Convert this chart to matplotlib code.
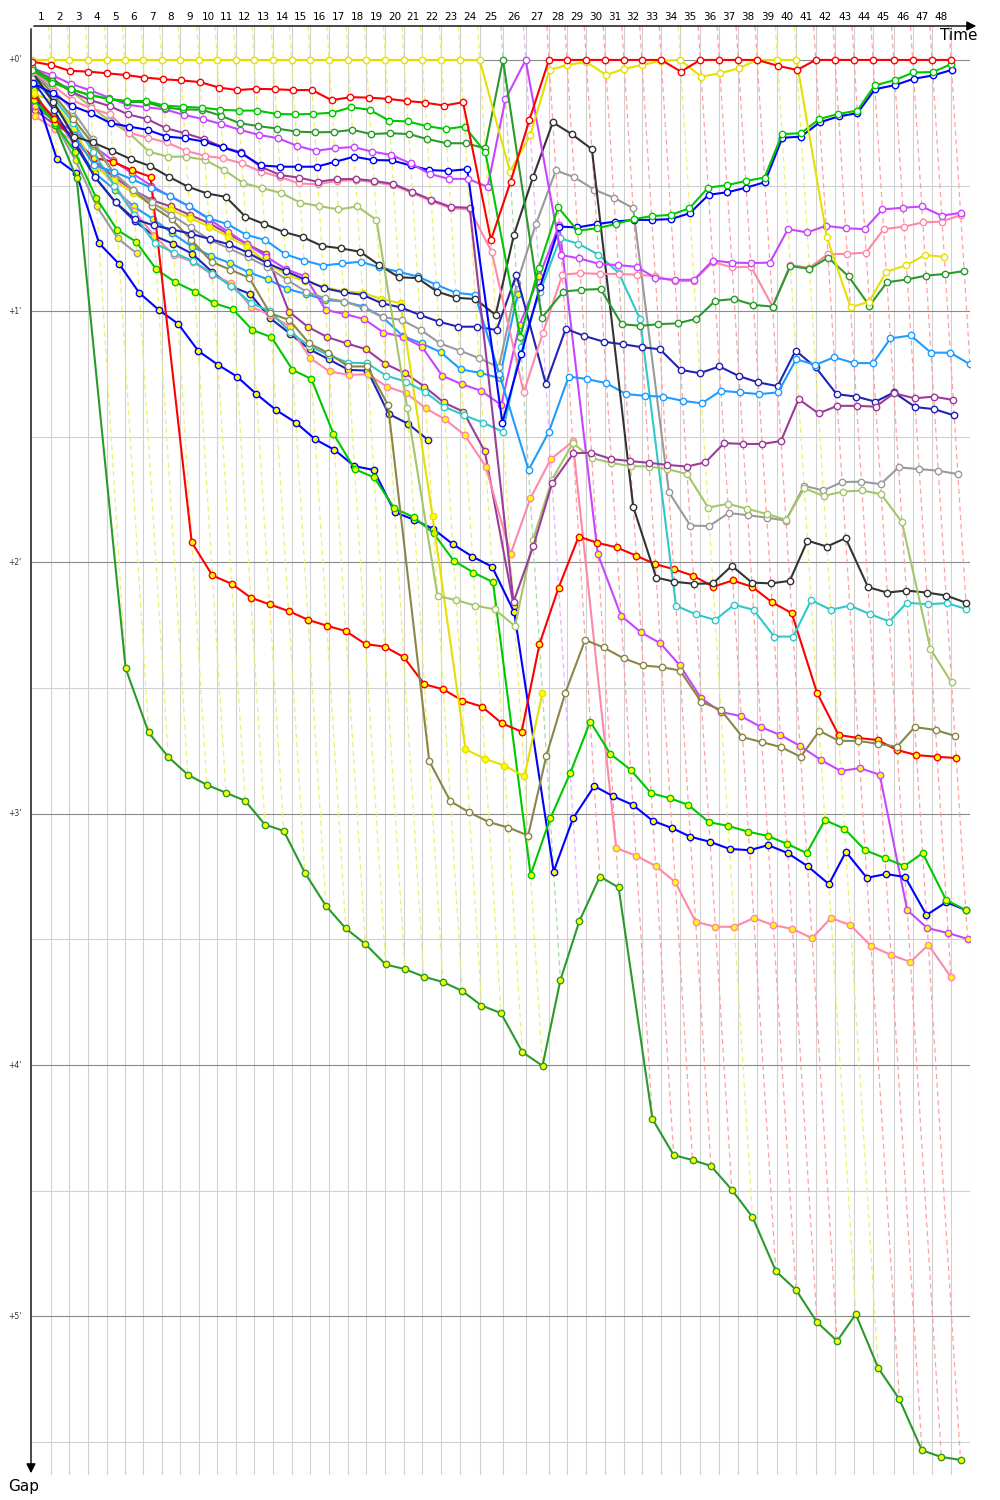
import numpy as np
import matplotlib
matplotlib.use("Agg")
import matplotlib.pyplot as plt

# leader lap times (s), laps 1..48
LAP_TIMES = [72.6, 71.1, 70.3, 72.6, 68.8, 71.1, 70.3, 71.1, 71.5, 69.9,
             70.3, 71.1, 72.6, 70.3, 71.1, 72.6, 72.6, 70.3, 72.6, 71.1,
             70.3, 72.6, 72.6, 73.8, 89.0, 86.8, 89.0, 68.8, 74.1, 72.6,
             71.1, 68.8, 74.1, 72.6, 76.4, 72.6, 72.6, 72.6, 77.6, 72.6,
             73.8, 74.1, 72.6, 72.6, 78.7, 72.6, 74.1, 72.6]
# leader of each lap 1..48 (colour of the lap line)
LEADERS = ["Y"] * 24 + ["G", "V"] + ["R"] * 7 + ["Y"] + ["R"] * 4 + ["Y"] * 2 + ["R"] * 8
LAP_LABELS = [str(i) for i in range(1, 49)]
GAP_LABELS = ["+0'", "+1'", "+2'", "+3'", "+4'", "+5'"]

N = None
# gaps to leader (s), laps 0..48
YELLOW1 = [0, 0, 0, 0, 0, 0, 0, 0, 0, 0,
           0, 0, 0, 0, 0, 0, 0, 0, 0, 0,
           0, 0, 0, 0, 0, 26.7, 17.9, 2.4, 1.2, 0.5,
           3.6, 2.1, 1.2, 0.2, 0, 4.0, 3.2, 2.0, 0, 0,
           0, 42.3, 59.1, 57.7, 50.6, 49.0, 46.6, 47.0, N]
RED1 = [0.4, 1.2, 2.6, 2.8, 3.2, 3.6, 4.2, 4.6, 4.9, 5.3,
        6.6, 7.2, 6.9, 7.0, 7.2, 7.2, 9.6, 8.9, 9.0, 9.3,
        9.8, 10.2, 10.9, 10.1, 43.0, 29.1, 14.3, 0, 0, 0,
        0, 0, 0, 0, 2.8, 0, 0, 0, 0, 1.4,
        2.4, 0, 0, 0, 0, 0, 0, 0, 0]
GREEN1 = [2.4, 5.5, 7.0, 8.4, 9.3, 9.8, 9.8, 10.9, 11.2, 11.4,
          11.9, 12.1, 12.1, 12.9, 13.0, 12.9, 12.6, 11.3, 11.9, 14.5,
          14.7, 15.8, 16.5, 15.9, 22.1, 66.1, 49.7, 35.2, 40.8, 40.2,
          39.2, 38.0, 37.3, 37.0, 35.4, 30.5, 29.9, 28.9, 28.1, 17.7,
          17.5, 14.1, 12.9, 12.1, 6.1, 4.8, 3.0, 2.9, 1.0]
DKGREEN1 = [1.6, 5.0, 7.0, 8.4, 9.3, 10.0, 10.1, 11.4, 11.8, 11.9,
            13.3, 15.1, 15.8, 16.4, 17.1, 17.3, 17.2, 16.7, 17.7, 17.5,
            17.7, 18.9, 19.9, 19.9, 21.1, 0, 61.6, 55.3, 54.9, 54.7,
            63.1, 63.5, 63.1, 62.9, 61.8, 57.5, 57.1, 58.5, 58.9, 49.2,
            49.9, 47.2, 51.7, 58.7, 53.1, 52.4, 51.5, 51.1, 50.4]
VIOLET1 = [2.0, 3.6, 5.7, 7.2, 9.0, 10.7, 11.3, 11.8, 13.1, 14.1,
           15.3, 16.7, 17.9, 18.7, 20.5, 21.7, 21.1, 20.8, 21.9, 22.7,
           24.7, 27.2, 28.4, 28.4, 30.3, 9.4, 0, 46.6, 47.4, 48.7,
           49.0, 49.4, 52.1, 52.5, 52.5, 47.9, 48.4, 48.5, 48.4, 40.4,
           41.2, 39.6, 40.2, 40.4, 35.7, 35.3, 35.0, 37.2, 36.5]
BLUE1 = [5.6, 8.0, 11.0, 12.7, 15.1, 15.9, 16.7, 18.3, 18.7, 19.5,
         20.9, 22.3, 25.2, 25.5, 25.5, 25.5, 24.3, 23.1, 23.9, 24.0,
         25.2, 26.3, 26.5, 26.1, 86.6, 70.2, 54.3, 39.8, 40.0, 39.2,
         38.6, 38.2, 38.2, 38.0, 36.6, 32.2, 31.6, 30.5, 29.2, 18.6,
         18.3, 14.9, 13.5, 12.7, 7.0, 6.0, 4.5, 3.7, 2.4]
PURPLE1 = [2.5, 4.4, 7.6, 9.6, 11.0, 13.0, 14.1, 16.3, 17.5, 18.9,
           20.8, 22.1, 25.5, 27.5, 28.1, 29.1, 28.5, 28.4, 28.9, 29.6,
           31.5, 33.4, 35.1, 35.3, 129.4, 116.1, 101.1, 93.9, 93.8, 95.3,
           95.8, 96.2, 96.7, 97.1, 96.1, 91.5, 91.7, 91.7, 91.0, 81.0,
           84.4, 82.6, 82.6, 82.8, 79.6, 80.8, 80.4, 81.2, N]
PINK1 = [3.0, 6.0, 9.6, 11.5, 13.0, 17.4, 18.6, 19.7, 21.7, 22.9,
         23.5, 24.7, 26.7, 28.0, 29.5, 29.7, 28.9, 28.7, 29.2, 29.9,
         31.8, 33.7, 35.4, 35.7, 45.8, 79.4, 65.3, 51.3, 50.9, 51.1,
         51.1, 51.3, 51.6, 52.9, 52.7, 48.3, 49.5, 49.4, 58.9, 49.0,
         49.6, 46.4, 46.3, 46.0, 40.4, 39.8, 38.8, 38.6, 37.0]
YGREEN1 = [3.0, 5.0, 7.5, 11.1, 14.7, 17.5, 21.9, 23.1, 23.1, 23.9,
           26.3, 29.4, 30.6, 31.8, 34.1, 34.9, 35.7, 35.0, 38.2, 83.0,
           128.0, 129.0, 130.3, 131.2, 135.2, 114.6, 100.3, 91.5, 95.1, 96.2,
           97.0, 97.1, 97.7, 98.9, 106.9, 106.0, 107.2, 108.4, 109.8, 102.3,
           104.1, 103.1, 102.8, 103.7, 110.4, 140.7, 148.6, N, N]
BLACK1 = [3.0, 10.0, 18.3, 19.7, 21.7, 23.7, 25.3, 27.9, 30.3, 31.9,
          32.7, 37.4, 39.2, 41.1, 42.3, 44.4, 45.0, 45.8, 49.0, 51.9,
          52.1, 55.3, 56.8, 57.1, 60.9, 41.8, 28.0, 14.9, 17.7, 21.3,
          106.7, 123.6, 124.6, 125.1, 125.0, 120.8, 124.8, 125.0, 124.4, 114.8,
          116.2, 114.2, 125.9, 127.2, 126.7, 127.2, 127.9, 129.6, N]
SKYBLUE1 = [4.0, 10.0, 18.0, 25.1, 26.7, 28.5, 30.5, 32.5, 35.0, 37.8,
            39.2, 41.8, 43.0, 46.4, 47.9, 49.1, 48.6, 48.2, 49.5, 50.6,
            51.7, 53.7, 55.6, 56.1, 75.0, 97.9, 88.8, 75.6, 76.2, 77.2,
            79.8, 80.2, 80.4, 81.4, 82.0, 79.0, 79.4, 79.8, 79.4, 71.5,
            72.8, 71.0, 72.4, 72.4, 66.5, 65.8, 69.9, 69.9, 72.7]
NAVY1 = [5.0, 12.0, 20.0, 28.0, 34.0, 38.0, 39.5, 40.5, 41.5, 42.8,
         44.0, 46.0, 48.5, 50.5, 52.5, 54.5, 55.5, 56.1, 58.1, 59.1,
         60.9, 62.5, 63.7, 63.7, 64.5, 51.3, 77.4, 64.2, 65.9, 67.3,
         67.9, 68.6, 69.1, 74.0, 74.8, 73.2, 75.5, 77.0, 77.9, 69.4,
         73.4, 79.8, 80.4, 81.6, 79.4, 82.9, 83.4, 84.9, N]
GRAY1 = [3.0, 7.0, 12.0, 19.0, 27.0, 31.0, 34.0, 37.0, 40.0, 43.0,
         45.0, 47.1, 49.4, 52.5, 55.3, 56.9, 57.7, 59.2, 61.4, 62.1,
         64.5, 67.7, 69.4, 71.2, 73.4, 53.3, 39.2, 26.4, 28.0, 31.0,
         32.9, 35.4, 103.2, 111.2, 111.3, 108.2, 108.7, 109.3, 110.0, 101.7,
         102.8, 100.8, 100.7, 101.3, 97.3, 97.7, 98.1, 98.9, N]
OLIVE1 = [3.0, 8.0, 14.0, 20.0, 27.0, 31.0, 35.0, 38.0, 43.0, 48.2,
          50.1, 52.0, 60.5, 62.1, 67.7, 70.0, 73.2, 73.2, 82.4, 167.4,
          177.0, 179.7, 182.0, 183.3, 185.2, 166.1, 151.2, 138.5, 140.3, 142.9,
          144.6, 145.0, 145.8, 153.3, 155.2, 161.7, 162.9, 164.1, 166.4, 160.2,
          162.6, 162.6, 163.3, 164.0, 159.3, 160.0, 161.4, N, N]
TURQ1 = [4.0, 9.0, 15.0, 22.0, 30.0, 37.0, 43.8, 46.0, 48.0, 51.0,
         54.0, 58.0, 60.0, 65.0, 68.3, 70.5, 72.3, 72.4, 75.4, 76.8,
         79.2, 82.8, 84.8, 86.6, 88.8, 68.5, 55.3, 42.6, 43.9, 46.5,
         50.8, 61.9, 130.3, 132.4, 133.7, 130.1, 131.3, 137.7, 137.7, 129.0,
         131.3, 130.3, 132.3, 134.1, 129.6, 130.0, 129.7, 131.1, N]

YELLOW2 = [8.0, 10.0, 16.3, 25.5, 28.7, 31.8, 34.6, 35.8, 37.8, 39.8,
           42.2, 44.6, 48.5, 51.3, 52.9, 54.3, 55.2, 55.6, 57.1, 58.1,
           109.0, 164.6, 166.9, 168.5, 171.1, 151.1]
RED2 = [8.4, 14.0, 19.0, 23.4, 24.3, 26.3, 27.9, 115.2, 123.1, 125.1,
        128.4, 130.0, 131.6, 133.7, 135.1, 136.4, 139.5, 140.1, 142.6, 149.1,
        150.3, 153.0, 154.4, 158.4, 160.4, 139.5, 126.0, 113.8, 115.3, 116.4,
        118.4, 120.4, 121.6, 123.2, 125.8, 124.3, 125.8, 129.5, 132.1, 151.1,
        161.2, 161.9, 162.4, 164.8, 166.0, 166.4, 166.7]
GREEN2 = [9.6, 15.0, 22.0, 33.0, 40.6, 43.4, 50.0, 53.1, 55.3, 58.1,
          59.5, 64.5, 66.2, 74.0, 76.2, 89.3, 97.7, 99.7, 107.1, 109.2,
          113.0, 119.6, 122.4, 124.7, 194.6, 181.1, 170.3, 158.0, 165.7, 169.5,
          175.1, 176.3, 177.9, 182.0, 182.9, 184.3, 185.3, 187.2, 189.4, 181.5,
          183.6, 188.7, 190.6, 192.5, 189.4, 200.6, 203.0]
DKGREEN2 = [7.2, 15.5, 28.3, 145.3, 160.6, 166.4, 170.7, 173.1, 175.0, 176.9,
            182.6, 184.1, 194.1, 202.0, 207.4, 211.1, 216.0, 217.1, 218.9, 220.2,
            222.3, 225.8, 227.6, 236.9, 240.2, 219.7, 205.6, 195.0, 197.6, 252.9,
            261.5, 262.7, 264.1, 269.8, 276.3, 289.2, 293.7, 301.4, 305.9, 299.5,
            312.3, 319.8, 332.0, 333.6, 334.3]
BLUE2 = [6.4, 23.7, 27.1, 43.8, 48.8, 55.6, 59.7, 63.0, 69.5, 72.8,
         75.6, 79.8, 83.6, 86.6, 90.6, 93.1, 97.0, 97.9, 108.0, 109.8,
         112.0, 115.6, 118.6, 121.0, 131.9, 193.8, 181.1, 173.4, 175.8, 177.9,
         181.7, 183.4, 185.5, 186.7, 188.4, 188.7, 187.5, 189.4, 192.5, 196.8,
         189.1, 195.3, 194.4, 195.1, 204.2, 201.1, 203.0]
NAVY2 = [10.3, 14.0, 19.0, 28.0, 34.0, 38.5, 42.0, 43.9, 46.3, 50.6,
         54.1, 55.9, 61.7, 65.4, 69.1, 71.5, 74.0, 74.2, 84.5, 86.9,
         90.7]
VIOLET2 = [11.1, 14.5, 17.0, 20.5, 24.0, 27.0, 30.0, 32.6, 35.0, 38.0,
           41.0, 44.0, 47.0, 50.0, 51.7, 59.7, 60.7, 61.9, 65.1, 66.1,
           68.5, 75.4, 77.4, 79.0, 82.4, 63.3, 51.7, 39.4, 118.0, 132.7,
           136.7, 139.3, 144.5, 152.4, 155.7, 156.7, 159.3, 161.2, 163.8, 167.2,
           169.8, 169.1, 170.7, 203.0, 207.3, 208.5, 209.9]
PURPLE2 = [11.9, 15.5, 18.0, 24.0, 28.0, 31.0, 33.5, 35.0, 37.0, 39.0,
           41.5, 44.0, 46.3, 60.1, 63.8, 66.2, 67.7, 69.1, 72.6, 74.8,
           78.0, 81.8, 84.0, 93.5, 130.5]
PINK2 = [13.5, 16.5, 19.5, 24.0, 30.0, 36.0, 42.0, 46.6, 48.2, 51.3,
         53.3, 58.9, 60.9, 63.7, 71.2, 74.4, 75.2, 75.1, 78.0, 79.6,
         83.2, 85.8, 89.6, 97.1, 118.0, 104.7, 95.4, 91.1, 188.2, 190.0,
         192.5, 196.3, 205.8, 207.0, 207.0, 204.9, 206.6, 207.5, 209.7, 204.9,
         206.6, 211.6, 213.7, 215.4, 211.3, 219.0]
GRAY2 = [9.0, 15.0, 24.0, 35.0, 42.6, 46.2]
SKYBLUE2 = [10.0, 13.5, 20.0, 27.0, 31.0, 35.0, 38.0, 41.4, 44.6, 46.8,
            48.5, 50.7, 52.4, 54.7, 55.9, 57.3, 57.7, 58.9, 61.4, 65.9,
            67.7, 69.8, 73.9, 74.7, 76.0, 55.9]

C = {"yellow": "#e6e000", "red": "#ff0000", "green": "#00c800", "dkgreen": "#2a9a2a",
     "violet": "#c845ff", "blue": "#0000ff", "purple": "#9a3c9a", "pink": "#ff88a8",
     "ygreen": "#a4c668", "black": "#333333", "sky": "#1e9cff", "navy": "#2222b4",
     "gray": "#9a9a9a", "olive": "#8a8648", "turq": "#30c8c8"}
LAP_LINE = {"Y": "#eeee70", "R": "#ffa0a0", "G": "#a8d8a8", "V": "#e6b0ff"}

# drawn bottom-first: class 2 (yellow markers), then class 1 (white markers)
SERIES = [
    (GRAY2, "gray", True), (SKYBLUE2, "sky", True), (NAVY2, "navy", True),
    (PURPLE2, "purple", True), (PINK2, "pink", True), (VIOLET2, "violet", True),
    (BLUE2, "blue", True), (DKGREEN2, "dkgreen", True), (GREEN2, "green", True),
    (RED2, "red", True), (YELLOW2, "yellow", True),
    (TURQ1, "turq", False), (OLIVE1, "olive", False), (GRAY1, "gray", False),
    (NAVY1, "navy", False), (SKYBLUE1, "sky", False), (BLACK1, "black", False),
    (YGREEN1, "ygreen", False), (PINK1, "pink", False), (PURPLE1, "purple", False),
    (BLUE1, "blue", False), (VIOLET1, "violet", False), (DKGREEN1, "dkgreen", False),
    (GREEN1, "green", False), (YELLOW1, "yellow", False), (RED1, "red", False),
]

T = np.concatenate([[0.0], np.cumsum(LAP_TIMES)])
X_END = T[-1] + LAP_TIMES[-1]
Y_TOP, Y_BOT = -8.1, 337.9

gaps = []
for vals, col, cls2 in SERIES:
    v = np.full(49, np.nan)
    v[:len(vals)] = [np.nan if a is None else a for a in vals]
    gaps.append(v)
gaps = np.array(gaps)
last_gap = np.nanmax(gaps, axis=0)   # the last car of each lap

fig = plt.figure(figsize=(10, 15), dpi=100)
ax = fig.add_axes([0.0317, 25 / 1500, 0.9383, 1449 / 1500])
ax.set_xlim(0, X_END)
ax.set_ylim(Y_BOT, Y_TOP)
for s in ax.spines.values():
    s.set_visible(False)
ax.set_xticks([]); ax.set_yticks([])

# grid
for t in list(T[1:]) + [X_END]:
    ax.axvline(t, color="#d0d0d0", lw=0.8, zorder=0)
for m in range(0, 12):
    g = m * 30
    if g > Y_BOT:
        break
    ax.axhline(g, color="#8a8a8a" if m % 2 == 0 else "#d0d0d0", lw=0.8, zorder=0.5)

# lap lines of the leader, down to the last car of the lap
for k in range(1, 49):
    g = np.array([Y_TOP, last_gap[k]])
    ax.plot(T[k] + g, g, color=LAP_LINE[LEADERS[k - 1]], lw=0.9,
            ls=(0, (4, 3)), zorder=1)

for (vals, col, cls2), v in zip(SERIES, gaps):
    ax.plot(T + v, v, "-o", color=C[col], lw=1.5, ms=4.6, mew=1.0,
            mfc="#ffff00" if cls2 else "white", mec=C[col], zorder=2)

# lap numbers on top
for k in range(1, 49):
    ax.text((T[k - 1] + T[k]) / 2, 1.0062, LAP_LABELS[k - 1], transform=ax.get_xaxis_transform(),
            ha="center", va="center", fontsize=7.5, clip_on=False)
for m, lab in enumerate(GAP_LABELS):
    ax.text(-65, m * 60, lab, ha="center", va="center", fontsize=5.5, color="#333333", clip_on=False)

# axes arrows
fig.add_artist(matplotlib.patches.FancyArrowPatch((0.031, 1 - 26 / 1500), (0.979, 1 - 26 / 1500),
               transform=fig.transFigure, arrowstyle="-|>", mutation_scale=14, color="black", lw=1))
fig.add_artist(matplotlib.patches.FancyArrowPatch((0.031, 1 - 26 / 1500), (0.031, 1 - 1476 / 1500),
               transform=fig.transFigure, arrowstyle="-|>", mutation_scale=14, color="black", lw=1))
fig.text(0.977, 1 - 35 / 1500, "Time", ha="right", va="center", fontsize=11)
fig.text(0.024, 1 - 1486 / 1500, "Gap", ha="center", va="center", fontsize=11)

fig.savefig("out.png", dpi=100)
